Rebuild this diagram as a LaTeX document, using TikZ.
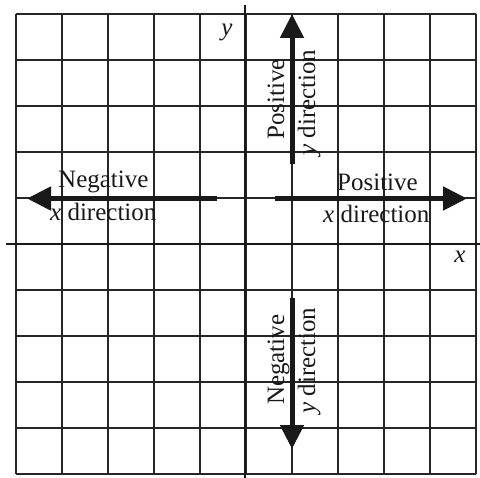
\documentclass[tikz,border=0pt]{standalone}
\usepackage{fontspec}
\setmainfont{Liberation Serif}
\usetikzlibrary{arrows.meta}
\begin{document}
\begin{tikzpicture}[x=1bp,y=-1bp,
  gridline/.style={line width=1.3bp,draw=black!85},
  axisline/.style={line width=2.4bp,draw=black!90},
  bigarrow/.style={line width=5bp,draw=black!90,-{Triangle[length=24bp,width=23bp]}},
  lbl/.style={inner sep=0pt,text=black!90,font=\fontsize{25bp}{31bp}\selectfont},
  axlbl/.style={inner sep=0pt,text=black!90,font=\fontsize{25bp}{30bp}\selectfont\itshape}]
\useasboundingbox (0,0) rectangle (480,478);
\fill[white] (0,0) rectangle (480,478);
% grid
\foreach \i in {0,...,10}{
  \draw[gridline] ({16+46*\i},14) -- ({16+46*\i},474);
  \draw[gridline] (16,{14+46*\i}) -- (476,{14+46*\i});
}
% axes
\coordinate (xl) at (6,244);
\coordinate (xr) at (480,244);
\coordinate (yt) at (245,5);
\coordinate (yb) at (245,478);
\draw[axisline] (xl) -- (xr);
\draw[axisline] (yt) -- (yb);
\node[axlbl,anchor=base] (ylab) at (227,36) {y};
\node[axlbl,anchor=base] (xlab) at (460,262) {x};
% arrows
\coordinate (nxs) at (217,198.5);
\coordinate (nxe) at (27,198.5);
\coordinate (pxs) at (275,198.5);
\coordinate (pxe) at (467,198.5);
\coordinate (pys) at (292,164);
\coordinate (pye) at (292,14);
\coordinate (nys) at (292,298);
\coordinate (nye) at (292,449);
\draw[bigarrow] (nxs) -- (nxe);
\draw[bigarrow] (pxs) -- (pxe);
\draw[bigarrow] (pys) -- (pye);
\draw[bigarrow] (nys) -- (nye);
% labels
\node[lbl,anchor=base west] (nx1) at (58,188) {Negative};
\node[lbl,anchor=base west] (nx2) at (50,220) {\textit{x} direction};
\node[lbl,anchor=base west] (px1) at (337,191) {Positive};
\node[lbl,anchor=base west] (px2) at (323,222) {\textit{x} direction};
\node[lbl,anchor=base west,rotate=90] (py1) at (284,140) {Positive};
\node[lbl,anchor=base west,rotate=90] (py2) at (315,156) {\textit{y} direction};
\node[lbl,anchor=base west,rotate=90] (ny1) at (284,405) {Negative};
\node[lbl,anchor=base west,rotate=90] (ny2) at (315,414) {\textit{y} direction};
\end{tikzpicture}
\end{document}
